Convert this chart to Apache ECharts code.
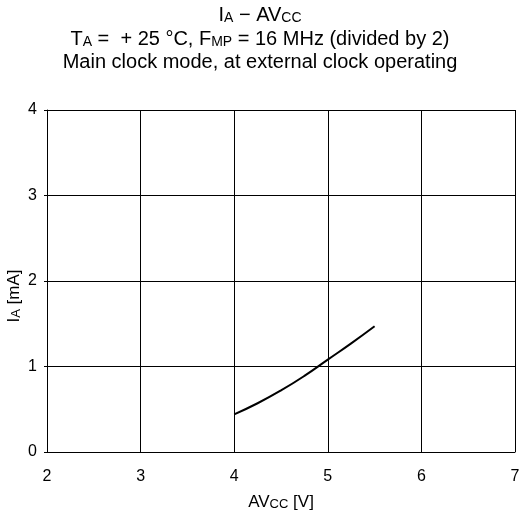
<!DOCTYPE html>
<html>
<head>
<meta charset="utf-8">
<script src="https://cdn.jsdelivr.net/npm/echarts@6/dist/echarts.min.js"></script>
<style>
  html, body { margin: 0; padding: 0; background: #fff; }
  #chart { width: 520px; height: 510px; }
</style>
</head>
<body>
<div id="chart"></div>
<script>
// Supply voltage AVCC [V] and analog current IA [mA]
const avcc = [4.0, 4.25, 4.5, 4.75, 5.0, 5.25, 5.5];
const ia = [0.44, 0.57, 0.72, 0.89, 1.08, 1.27, 1.47];

const xTicks = [2, 3, 4, 5, 6, 7];
const yTicks = [0, 1, 2, 3, 4];

const FONT = '"Liberation Sans", Arial, Helvetica, sans-serif';

const chart = echarts.init(document.getElementById('chart'), null, { renderer: 'canvas' });

// Rich-text styles: main text and a smaller, baseline-aligned subscript
function richPair(main, sub, lh) {
  return {
    t: { fontSize: main, fontFamily: FONT, color: '#000', lineHeight: lh, verticalAlign: 'bottom' },
    s: { fontSize: sub, fontFamily: FONT, color: '#000', lineHeight: lh - 0.7 * (main - sub), verticalAlign: 'bottom' }
  };
}

chart.setOption({
  animation: false,
  backgroundColor: '#fff',
  title: {
    left: 'center',
    top: -3,
    text: '{t|I}{s|A}{t| − AV}{s|CC}\n{t|T}{s|A}{t| =  + 25 °C, F}{s|MP}{t| = 16 MHz (divided by 2)}\n{t|Main clock mode, at external clock operating}',
    textStyle: {
      fontFamily: FONT,
      fontSize: 20,
      fontWeight: 'normal',
      color: '#000',
      lineHeight: 23.5,
      rich: richPair(20, 14, 23.5)
    }
  },
  grid: { left: 47, right: 5, top: 110, bottom: 58, show: false, outerBoundsMode: 'none', containLabel: false },
  xAxis: {
    type: 'value',
    min: xTicks[0],
    max: xTicks[xTicks.length - 1],
    interval: 1,
    name: '{t|AV}{s|CC}{t| [V]}',
    nameLocation: 'middle',
    nameGap: 39,
    nameTextStyle: {
      fontFamily: FONT, fontSize: 17, color: '#000',
      rich: richPair(17, 13, 20)
    },
    axisLine: { show: true, lineStyle: { color: '#000', width: 1 } },
    axisTick: { show: false },
    axisLabel: { fontFamily: FONT, fontSize: 16, color: '#000', margin: 17 },
    splitLine: { show: true, lineStyle: { color: '#000', width: 1 } }
  },
  yAxis: {
    type: 'value',
    min: yTicks[0],
    max: yTicks[yTicks.length - 1],
    interval: 1,
    name: '{t|I}{s|A}{t| [mA]}',
    nameLocation: 'middle',
    nameGap: 24,
    nameMoveOverlap: false,
    nameRotate: 90,
    nameTextStyle: {
      fontFamily: FONT, fontSize: 17, color: '#000',
      padding: [0, 30, 0, 0],
      rich: richPair(17, 13, 20)
    },
    axisLine: { show: true, lineStyle: { color: '#000', width: 1 } },
    axisTick: { show: true, length: 3, inside: false, lineStyle: { color: '#000' } },
    axisLabel: { fontFamily: FONT, fontSize: 16, color: '#000', margin: 10 },
    splitLine: { show: true, lineStyle: { color: '#000', width: 1 } }
  },
  series: [{
    type: 'line',
    data: avcc.map((v, i) => [v, ia[i]]),
    smooth: true,
    showSymbol: false,
    lineStyle: { color: '#000', width: 2 }
  }]
});
</script>
</body>
</html>
